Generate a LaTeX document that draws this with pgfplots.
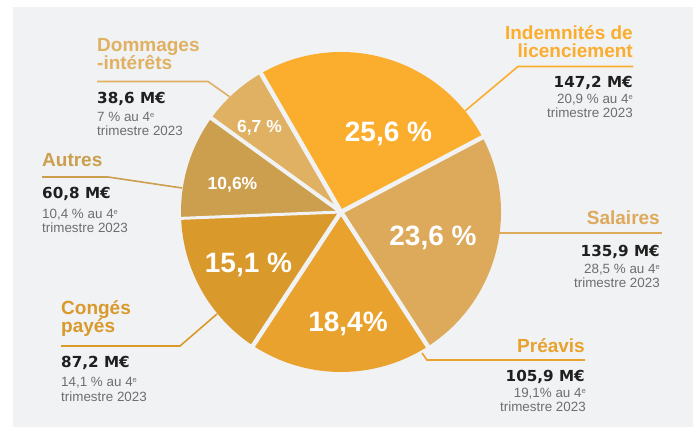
\documentclass[border=0pt]{standalone}
\usepackage{fontspec}
\setmainfont{Liberation Sans}
\newfontfamily\numfont{DejaVu Sans}
\usepackage{pgfplots}
\usepackage{pgfplotstable}
\pgfplotsset{compat=1.18}
\definecolor{bg}{HTML}{F1F2F4}
\definecolor{cInd}{HTML}{FBAD2D}
\definecolor{cSal}{HTML}{DDA95B}
\definecolor{cPre}{HTML}{E9A22D}
\definecolor{cCon}{HTML}{D9992B}
\definecolor{cAut}{HTML}{CC9F4E}
\definecolor{cDom}{HTML}{E0B063}
\definecolor{txtgray}{HTML}{6E6E6E}
\definecolor{txtblack}{HTML}{1F1F1F}
\pgfplotstableread{
name pct
Indemnites 25.6
Salaires 23.6
Preavis 18.4
Conges 15.1
Autres 10.6
Dommages 6.7
}\piedata
\newcommand\hfont{\bfseries\fontsize{19}{19}\selectfont}
\newcommand\vfont{\numfont\bfseries\fontsize{15.2}{15.2}\selectfont}
\newcommand\gfont{\fontsize{13.4}{13.4}\selectfont}
\newcommand\pbig{\bfseries\fontsize{28}{28}\selectfont}
\newcommand\psmall{\bfseries\fontsize{17.5}{17.5}\selectfont}
\newcommand\sue{\raisebox{4.6pt}{\fontsize{7.5}{7.5}\selectfont e}}
\begin{document}
\begin{tikzpicture}
\pgfmathsetmacro\aA{120}
\pgfplotstablegetelem{0}{pct}\of\piedata \pgfmathsetmacro\aB{\aA-3.6*\pgfplotsretval}
\pgfplotstablegetelem{1}{pct}\of\piedata \pgfmathsetmacro\aC{\aB-3.6*\pgfplotsretval}
\pgfplotstablegetelem{2}{pct}\of\piedata \pgfmathsetmacro\aD{\aC-3.6*\pgfplotsretval}
\pgfplotstablegetelem{3}{pct}\of\piedata \pgfmathsetmacro\aE{\aD-3.6*\pgfplotsretval}
\pgfplotstablegetelem{4}{pct}\of\piedata \pgfmathsetmacro\aF{\aE-3.6*\pgfplotsretval}
\pgfplotstablegetelem{5}{pct}\of\piedata \pgfmathsetmacro\aG{\aF-3.6*\pgfplotsretval}
\begin{axis}[width=697pt,height=427pt,scale only axis,xmin=0,xmax=697,ymin=0,ymax=427,
  y dir=reverse,hide axis,clip=false]
\fill[white] (axis cs:0,0) rectangle (axis cs:697,427);
\fill[bg] (axis cs:13,7) rectangle (axis cs:693,427);
% slices
\fill[cInd] (axis cs:341,212) -- ++(\aA:160pt) arc[start angle=\aA,end angle=\aB,radius=160pt] -- cycle;
\fill[cSal] (axis cs:341,212) -- ++(\aB:160pt) arc[start angle=\aB,end angle=\aC,radius=160pt] -- cycle;
\fill[cPre] (axis cs:341,212) -- ++(\aC:160pt) arc[start angle=\aC,end angle=\aD,radius=160pt] -- cycle;
\fill[cCon] (axis cs:341,212) -- ++(\aD:160pt) arc[start angle=\aD,end angle=\aE,radius=160pt] -- cycle;
\fill[cAut] (axis cs:341,212) -- ++(\aE:160pt) arc[start angle=\aE,end angle=\aF,radius=160pt] -- cycle;
\fill[cDom] (axis cs:341,212) -- ++(\aF:160pt) arc[start angle=\aF,end angle=\aG,radius=160pt] -- cycle;
% gaps
\draw[bg,line width=4.5pt] (axis cs:341,212) -- ++(\aA:163pt);
\draw[bg,line width=4.5pt] (axis cs:341,212) -- ++(\aB:163pt);
\draw[bg,line width=4.5pt] (axis cs:341,212) -- ++(\aC:163pt);
\draw[bg,line width=4.5pt] (axis cs:341,212) -- ++(\aD:163pt);
\draw[bg,line width=3pt] (axis cs:341,212) -- ++(\aE:163pt);
\draw[bg,line width=4pt] (axis cs:341,212) -- ++(\aF:163pt);
% leader lines
\draw[cDom,line width=1.6pt] (axis cs:97,81.5) -- (axis cs:208,81.5) -- (axis cs:230,97);
\draw[cAut,line width=1.6pt] (axis cs:42,177) -- (axis cs:108,177) -- (axis cs:182,188);
\draw[cCon,line width=1.6pt] (axis cs:61,346) -- (axis cs:180,346) -- (axis cs:217,314);
\draw[cInd,line width=1.6pt] (axis cs:633,66.5) -- (axis cs:518,66.5) -- (axis cs:465,111);
\draw[cSal,line width=1.6pt] (axis cs:497,233) -- (axis cs:662,233);
\draw[cPre,line width=1.6pt] (axis cs:422,353) -- (axis cs:427,360) -- (axis cs:585,360);
% percent labels
\node[white,anchor=base,inner sep=0,font=\pbig] at (axis cs:388.5,142) {25,6 \%};
\node[white,anchor=base,inner sep=0,font=\pbig] at (axis cs:433,246) {23,6 \%};
\node[white,anchor=base,inner sep=0,font=\pbig] at (axis cs:348,332) {18,4\%};
\node[white,anchor=base,inner sep=0,font=\pbig] at (axis cs:248.5,273) {15,1 \%};
\node[white,anchor=base,inner sep=0,font=\psmall] at (axis cs:232.5,190) {10,6\%};
\node[white,anchor=base,inner sep=0,font=\psmall] at (axis cs:259.5,133) {6,7 \%};
% Dommages
\node[cDom,anchor=base west,inner sep=0,font=\hfont] at (axis cs:97,52) {Dommages};
\node[cDom,anchor=base west,inner sep=0,font=\hfont] at (axis cs:97,70) {-intérêts};
\node[txtblack,anchor=base west,inner sep=0,font=\vfont] at (axis cs:97,104) {38,6 M€};
\node[txtgray,anchor=base west,inner sep=0,font=\gfont] at (axis cs:97,122) {7 \% au 4\sue};
\node[txtgray,anchor=base west,inner sep=0,font=\gfont] at (axis cs:97,136) {trimestre 2023};
% Autres
\node[cAut,anchor=base west,inner sep=0,font=\hfont] at (axis cs:42,167) {Autres};
\node[txtblack,anchor=base west,inner sep=0,font=\vfont] at (axis cs:42,199) {60,8 M€};
\node[txtgray,anchor=base west,inner sep=0,font=\gfont] at (axis cs:42,219) {10,4 \% au 4\sue};
\node[txtgray,anchor=base west,inner sep=0,font=\gfont] at (axis cs:42,233) {trimestre 2023};
% Conges
\node[cCon,anchor=base west,inner sep=0,font=\hfont] at (axis cs:61,315) {Congés};
\node[cCon,anchor=base west,inner sep=0,font=\hfont] at (axis cs:61,333) {payés};
\node[txtblack,anchor=base west,inner sep=0,font=\vfont] at (axis cs:61,368) {87,2 M€};
\node[txtgray,anchor=base west,inner sep=0,font=\gfont] at (axis cs:61,387) {14,1 \% au 4\sue};
\node[txtgray,anchor=base west,inner sep=0,font=\gfont] at (axis cs:61,402) {trimestre 2023};
% Indemnites
\node[cInd,anchor=base east,inner sep=0,font=\hfont] at (axis cs:633,40) {Indemnités de};
\node[cInd,anchor=base east,inner sep=0,font=\hfont] at (axis cs:633,58) {licenciement};
\node[txtblack,anchor=base east,inner sep=0,font=\vfont] at (axis cs:633,88) {147,2 M€};
\node[txtgray,anchor=base east,inner sep=0,font=\gfont] at (axis cs:633,104) {20,9 \% au 4\sue};
\node[txtgray,anchor=base east,inner sep=0,font=\gfont] at (axis cs:633,118) {trimestre 2023};
% Salaires
\node[cSal,anchor=base east,inner sep=0,font=\hfont] at (axis cs:660,225) {Salaires};
\node[txtblack,anchor=base east,inner sep=0,font=\vfont] at (axis cs:660,257) {135,9 M€};
\node[txtgray,anchor=base east,inner sep=0,font=\gfont] at (axis cs:660,274) {28,5 \% au 4\sue};
\node[txtgray,anchor=base east,inner sep=0,font=\gfont] at (axis cs:660,288) {trimestre 2023};
% Preavis
\node[cPre,anchor=base east,inner sep=0,font=\hfont] at (axis cs:585,353) {Préavis};
\node[txtblack,anchor=base east,inner sep=0,font=\vfont] at (axis cs:585,382) {105,9 M€};
\node[txtgray,anchor=base east,inner sep=0,font=\gfont] at (axis cs:586,398) {19,1\% au 4\sue};
\node[txtgray,anchor=base east,inner sep=0,font=\gfont] at (axis cs:586,412) {trimestre 2023};
\end{axis}
\end{tikzpicture}
\end{document}
